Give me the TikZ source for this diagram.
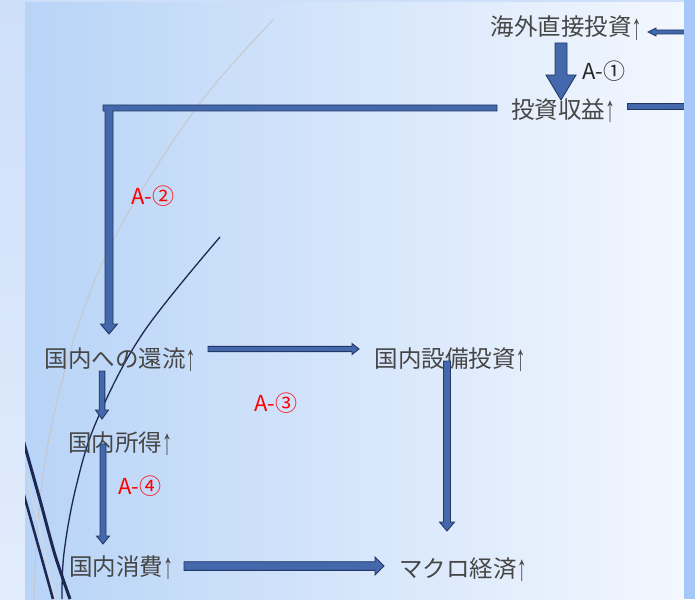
\documentclass[tikz,border=0pt]{standalone}
\usepackage{fontspec}
\setmainfont{Noto Sans CJK JP}
\newfontfamily\arrfont{Liberation Sans}
\usetikzlibrary{calc}
\definecolor{arfill}{RGB}{68,104,172}
\definecolor{arline}{RGB}{35,55,100}
\definecolor{txt}{RGB}{70,70,70}
\definecolor{navy}{RGB}{28,40,82}
\definecolor{outerblue}{RGB}{166,200,248}
\definecolor{stripblue}{RGB}{206,223,250}
\definecolor{slideleft}{RGB}{184,212,247}
\definecolor{slidemid}{RGB}{224,235,251}
\definecolor{slideright}{RGB}{243,247,254}
\newcommand\upar{\raisebox{-0.14em}{\scalebox{0.85}[1.55]{\arrfont ↑}}}
\tikzset{
  lbl/.style={font=\fontsize{23.5}{27}\selectfont, text=txt, inner sep=0pt},
  tag/.style={font=\fontsize{22}{25}\selectfont, inner sep=0pt},
  blockstyle/.style={fill=arfill, draw=arline, line width=0.9pt, line join=miter},
}
% from, to, shaft half width, head half width, head length
\newcommand\blockarrow[5]{%
  \coordinate (ba-c) at ($(#2)!#5!(#1)$);
  \path[blockstyle] ($(#1)!#3!90:(#2)$) -- ($(ba-c)!#3!90:(#2)$) -- ($(ba-c)!#4!90:(#2)$) -- (#2) -- ($(ba-c)!#4!-90:(#2)$) -- ($(ba-c)!#3!-90:(#2)$) -- ($(#1)!#3!-90:(#2)$) -- cycle;}
\begin{document}
\begin{tikzpicture}[x=1pt,y=-1pt]
\useasboundingbox (0,0) rectangle (695,599);
% background
\fill[outerblue] (0,0) rectangle (695,599);
\shade[top color=stripblue, bottom color=stripblue!60!white] (0,0) rectangle (25,599);
\fill[stripblue] (25,0) rectangle (684,3);
\shade[left color=slideleft, middle color=slidemid, right color=slideright] (25,3) rectangle (684,599);
% decorative curves
\begin{scope}
\clip (25,3) rectangle (684,599);
\draw[gray!45, line width=0.9pt] plot[smooth, tension=0.6] coordinates {(273,20) (197,107) (117,233) (77,330) (50,433) (38,520) (34,599)};
\draw[gray!30, line width=1pt] plot[smooth] coordinates {(25,470) (40,530) (55,599)};
\draw[navy, line width=1.3pt] plot[smooth, tension=0.6] coordinates {(220,237) (143,333) (97,420) (76,487) (64,553) (62,599)};
\draw[navy, line width=3pt] plot[smooth] coordinates {(22,436) (40,500) (55,555) (70,599)};
\draw[navy, line width=2.5pt] plot[smooth] coordinates {(22,488) (38,545) (53,599)};
\end{scope}
% labels
\node[lbl] (kaigai) at (566,28) {海外直接投資\upar};
\node[lbl] (shueki) at (563,111) {投資収益\upar};
\node[lbl] (kanryu) at (120,360) {国内への還流\upar};
\node[lbl] (setsubi) at (450,360) {国内設備投資\upar};
\node[lbl] (shotoku) at (120,444) {国内所得\upar};
\node[lbl] (shohi) at (121,568) {国内消費\upar};
\node[lbl] (macro) at (463,570) {マクロ経済\upar};
\node[tag, text=black!85] (t1) at (604,71) {A-①};
\node[tag, text=red] (t2) at (153,196) {A-②};
\node[tag, text=red] (t3) at (276,403) {A-③};
\node[tag, text=red] (t4) at (140,486) {A-④};
% connector end points
\coordinate (in1s) at (686,32);
\coordinate (in1e) at (648,32);
\coordinate (a2s) at (561,43);
\coordinate (a2e) at (561,100);
\coordinate (a6s) at (208,349);
\coordinate (a6e) at (359,349);
\coordinate (a5s) at (102,371);
\coordinate (a5e) at (102,419);
\coordinate (a7s) at (447,361);
\coordinate (a7e) at (447,531);
\coordinate (a8s) at (103,444);
\coordinate (a8e) at (103,544);
\coordinate (a9s) at (184,566);
\coordinate (a9e) at (384,566);
% arrows
\blockarrow{in1s}{in1e}{2pt}{4pt}{8pt}
\blockarrow{a2s}{a2e}{6pt}{15pt}{25pt}
\blockarrow{a6s}{a6e}{2.6pt}{5.5pt}{7pt}
\blockarrow{a5s}{a5e}{2.8pt}{6.5pt}{9pt}
\blockarrow{a7s}{a7e}{3.5pt}{7.5pt}{9pt}
\blockarrow{a8s}{a8e}{3pt}{6.5pt}{8pt}
\blockarrow{a9s}{a9e}{4.3pt}{9pt}{9pt}
% bar to the right of 投資収益
\path[blockstyle] (627,103.5) rectangle (686,109.5);
% L-shaped return arrow A-2
\path[blockstyle] (497,105) -- (103,105) -- (103,111) -- (105,111) -- (105,324) -- (100.5,324) -- (109,334) -- (117.5,324) -- (113,324) -- (113,111) -- (497,111) -- cycle;
% outer strip on the right over arrow ends
\fill[outerblue] (684,0) rectangle (695,599);
\end{tikzpicture}
\end{document}
